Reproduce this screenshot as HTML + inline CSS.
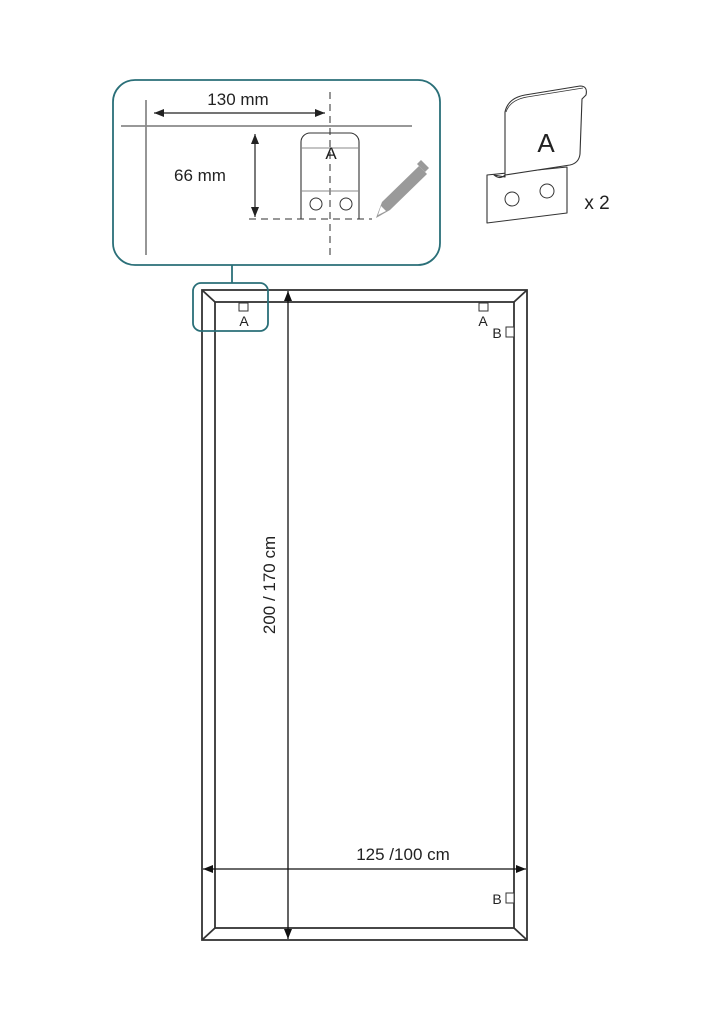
<!DOCTYPE html>
<html><head><style>body{margin:0;background:#fff}svg{display:block}</style></head><body>
<svg width="701" height="1024" viewBox="0 0 701 1024" xmlns="http://www.w3.org/2000/svg" font-family="Liberation Sans, sans-serif">
<defs>
<marker id="ah" viewBox="0 0 10 10" refX="10" refY="5" markerWidth="11" markerHeight="10" orient="auto-start-reverse" markerUnits="userSpaceOnUse"><path d="M0,1 L10,5 L0,9z" fill="#111"/></marker>
<marker id="ahs" viewBox="0 0 10 10" refX="10" refY="5" markerWidth="10" markerHeight="10" orient="auto-start-reverse" markerUnits="userSpaceOnUse"><path d="M0,1 L10,5 L0,9z" fill="#222"/></marker>
</defs>
<rect x="113" y="80" width="327" height="185" rx="22" fill="#fff" stroke="#2a6f78" stroke-width="1.8"/>
<line x1="232" y1="265" x2="232" y2="283" stroke="#2a6f78" stroke-width="1.8"/>
<g stroke="#8a8a8a" stroke-width="1.8" fill="none">
<line x1="146" y1="100" x2="146" y2="255"/>
<line x1="121" y1="126" x2="412" y2="126"/>
<line x1="330" y1="92" x2="330" y2="256" stroke-dasharray="7,5"/>
<line x1="249" y1="219" x2="372" y2="219" stroke-dasharray="7,5"/>
</g>
<line x1="154" y1="113" x2="325" y2="113" stroke="#222" stroke-width="1.2" marker-start="url(#ahs)" marker-end="url(#ahs)"/>
<line x1="255" y1="134" x2="255" y2="217" stroke="#222" stroke-width="1.2" marker-start="url(#ahs)" marker-end="url(#ahs)"/>
<text x="238" y="105" font-size="17" text-anchor="middle" fill="#222">130 mm</text>
<text x="200" y="181" font-size="17" text-anchor="middle" fill="#222">66 mm</text>
<path d="M301,219 V142 a9,9 0 0 1 9,-9 H350 a9,9 0 0 1 9,9 V219" fill="none" stroke="#333" stroke-width="1.1"/>
<line x1="301" y1="148" x2="359" y2="148" stroke="#888" stroke-width="1"/>
<line x1="301" y1="191" x2="359" y2="191" stroke="#888" stroke-width="1"/>
<circle cx="316" cy="204" r="6" fill="none" stroke="#333" stroke-width="1"/>
<circle cx="346" cy="204" r="6" fill="none" stroke="#333" stroke-width="1"/>
<text x="331" y="159" font-size="17" text-anchor="middle" fill="#222">A</text>
<g fill="#9a9a9a">
<polygon points="376,218 382,202 419,166 427,174 390,210"/>
<polygon points="417,164 421,160 429,168 425,172"/>
</g>
<polygon points="378,215 381,206 386,211" fill="#fff"/>
<g fill="#fff" stroke="#333" stroke-width="1.1" stroke-linejoin="round">
<path d="M487,175 L487,223 L567,213 L567,167 Z"/>
<path d="M505,177 L505,112 Q508,98 525,95 L580,86 Q588,86 586,95 L582,99 L580,154 Q579,163 570,165 L505,175 Q500,180 494,175 Z"/>
</g>
<path d="M506,112 Q510,100 527,97 L583,88" fill="none" stroke="#333" stroke-width="0.8"/>
<circle cx="512" cy="199" r="7" fill="#fff" stroke="#333" stroke-width="1"/>
<circle cx="547" cy="191" r="7" fill="#fff" stroke="#333" stroke-width="1"/>
<text x="546" y="152" font-size="26" text-anchor="middle" fill="#222">A</text>
<text x="597" y="209" font-size="19" text-anchor="middle" fill="#222">x 2</text>
<g fill="none" stroke="#333" stroke-width="1.8">
<rect x="202" y="290" width="325" height="650"/>
<rect x="215" y="302" width="299" height="626"/>
<line x1="202" y1="290" x2="215" y2="302"/>
<line x1="527" y1="290" x2="514" y2="302"/>
<line x1="202" y1="940" x2="215" y2="928"/>
<line x1="527" y1="940" x2="514" y2="928"/>
</g>
<rect x="193" y="283" width="75" height="48" rx="8" fill="none" stroke="#2a6f78" stroke-width="1.8"/>
<line x1="288" y1="291" x2="288" y2="939" stroke="#111" stroke-width="1.3" marker-start="url(#ah)" marker-end="url(#ah)"/>
<line x1="203" y1="869" x2="526" y2="869" stroke="#111" stroke-width="1.3" marker-start="url(#ah)" marker-end="url(#ah)"/>
<text x="403" y="860" font-size="17" text-anchor="middle" fill="#222">125 /100 cm</text>
<text transform="translate(275,585) rotate(-90)" font-size="17" text-anchor="middle" fill="#222">200 / 170 cm</text>
<g fill="#fff" stroke="#333" stroke-width="1">
<rect x="239" y="303" width="9" height="8"/>
<rect x="479" y="303" width="9" height="8"/>
<rect x="506" y="327" width="8" height="10"/>
<rect x="506" y="893" width="8" height="10"/>
</g>
<g font-size="14" fill="#222" text-anchor="middle">
<text x="244" y="326">A</text>
<text x="483" y="326">A</text>
<text x="497" y="338">B</text>
<text x="497" y="904">B</text>
</g>
</svg>
</body></html>
